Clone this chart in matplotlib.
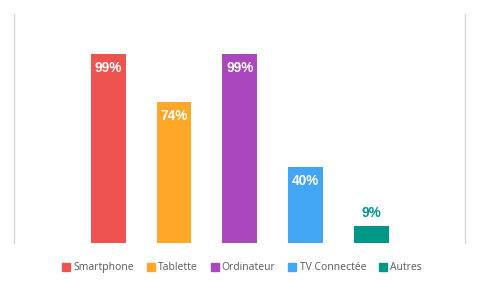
import matplotlib
matplotlib.use("Agg")
import matplotlib.pyplot as plt
from matplotlib.lines import Line2D

categories = ['Smartphone', 'Tablette', 'Ordinateur', 'TV Connectée', 'Autres']
values = [99, 74, 99, 40, 9]
colors = ['#EF5350', '#FFA726', '#AB47BC', '#42A5F5', '#009688']

fig = plt.figure(figsize=(4.8, 2.89), dpi=100)
ax = fig.add_axes([0.030, 0.159, 0.939, 0.792])

x = list(range(len(categories)))
bars = ax.bar(x, values, width=0.53, color=colors)

for xi, v, c in zip(x, values, colors):
    if v > 20:
        ax.text(xi, v - 7.3, f'{v}%', ha='center', va='center', color='white',
                fontsize=9.8, fontweight='bold', family='Liberation Sans')
    else:
        ax.text(xi, v + 7.0, f'{v}%', ha='center', va='center', color=c,
                fontsize=9.8, fontweight='bold', family='Liberation Sans')

ax.set_xlim(-1.43, 5.43)
ax.set_ylim(0, 120)
ax.set_xticks([])
ax.set_yticks([])
for side in ['top', 'bottom']:
    ax.spines[side].set_visible(False)
for side in ['left', 'right']:
    ax.spines[side].set_color('#d9d9d9')
    ax.spines[side].set_linewidth(1)

handles = [Line2D([], [], marker='s', linestyle='', markersize=5.5,
                  markerfacecolor=c, markeredgecolor=c) for c in colors]
fig.legend(handles, categories, loc='center', bbox_to_anchor=(0.504, 0.073),
           ncol=5, frameon=False, handletextpad=0.3, columnspacing=1.2,
           handlelength=0.8, prop={'family': 'Open Sans', 'size': 7.5},
           labelcolor='#595959')

fig.savefig('out.png', dpi=100)
